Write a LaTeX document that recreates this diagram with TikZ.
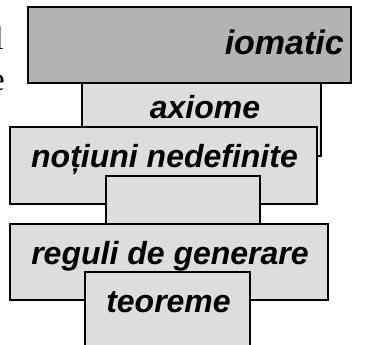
\documentclass[tikz,border=0pt]{standalone}
\usepackage{fontspec}
\setmainfont{Liberation Serif}
\newfontfamily\labelfont{Liberation Sans}
\definecolor{darkfill}{HTML}{B3B3B3}
\definecolor{lightfill}{HTML}{DDDDDD}
\tikzset{
  panel/.style={draw=black, line width=2.2pt, fill=#1},
  panel/.default=lightfill,
  tag/.style={anchor=base, inner sep=0pt, font=\labelfont\bfseries\itshape\fontsize{32}{38}\selectfont},
  bodytext/.style={anchor=base east, inner sep=0pt, font=\fontsize{33}{40}\selectfont}
}
\begin{document}
\begin{tikzpicture}[x=1pt, y=-1pt]
  \useasboundingbox (0,0) rectangle (375,345);
  \clip (0,0) rectangle (375,345);

  % running text to the left of the stack, cut at the edge
  \node[bodytext] (lineA) at (4,50) {Sistemul axiomatic l};
  \node[bodytext] (lineB) at (5,90) {definite e};

  % stack of panels, back to front
  \path[panel] (82,83) rectangle (321,156);
  \node[tag] (ax) at (205,118) {axiome};

  \path[panel=darkfill] (28,7) rectangle (351,83);
  \node[tag, anchor=base east] (title) at (344,55) {\fontsize{34}{40}\selectfont iomatic};

  \path[panel] (10,127) rectangle (317,204);
  \node[tag] (notions) at (164.5,167) {noțiuni nedefinite};

  \path[panel] (106,176) rectangle (260,240);

  \path[panel] (10,224) rectangle (328,300);
  \node[tag] (rules) at (170,264) {reguli de generare};

  \path[panel] (85,272) rectangle (250,360);
  \node[tag] (thm) at (168.5,312) {teoreme};
\end{tikzpicture}
\end{document}
